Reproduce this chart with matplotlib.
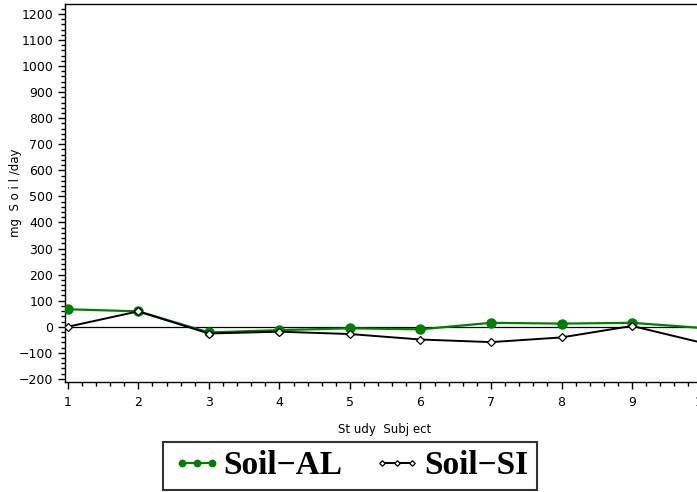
import matplotlib
matplotlib.use("Agg")
import matplotlib.pyplot as plt
from matplotlib.ticker import MultipleLocator

subjects = [1, 2, 3, 4, 5, 6, 7, 8, 9, 10]
soil_al = [67, 59, -22, -13, -6, -10, 15, 12, 15, -5]
soil_si = [0, 59, -26, -19, -28, -49, -59, -41, 3, -62]
y_ticks = list(range(-200, 1201, 100))

fig = plt.figure(figsize=(6.97, 4.92), dpi=100)
ax = fig.add_axes([65 / 697, 1 - 382 / 492, (697 - 65) / 697 + 0.01, (382 - 4) / 492])

ax.axhline(0, color="black", lw=0.9, zorder=1)
l1, = ax.plot(subjects, soil_al, color="#008000", lw=1.6, marker="o", ms=6.5,
              mfc="#008000", mec="#008000", label="Soil\u2212AL", zorder=3)
l2, = ax.plot(subjects, soil_si, color="black", lw=1.4, marker="D", ms=4,
              mfc="white", mec="black", mew=0.9, label="Soil\u2212SI", zorder=4)

ax.set_xlim(0.96, 10.02)
ax.set_ylim(-212, 1238)
ax.set_xticks(subjects)
ax.xaxis.set_minor_locator(MultipleLocator(0.2))
ax.set_yticks(y_ticks)
ax.yaxis.set_minor_locator(MultipleLocator(20))
ax.tick_params(axis="both", which="major", length=5, width=1, labelsize=9, direction="out")
ax.tick_params(axis="both", which="minor", length=3, width=1, direction="out")
ax.tick_params(axis="x", pad=5)
for s in ax.spines.values():
    s.set_linewidth(1)
ax.spines["right"].set_visible(False)

ax.set_ylabel("mg  S o i l /day", fontsize=8.5, labelpad=-2)
ax.set_xlabel("St udy  Subj ect", fontsize=8.5, labelpad=10)

leg = fig.legend(handles=[l1, l2], loc="center", bbox_to_anchor=(350 / 697, 1 - 466 / 492),
                 ncol=2, frameon=True, fancybox=False, edgecolor="black",
                 prop={"family": "Liberation Serif", "weight": "bold", "size": 24},
                 numpoints=3, handlelength=1.5, handletextpad=0.05, columnspacing=0.9,
                 borderpad=0.25, markerscale=0.7)
leg.get_frame().set_linewidth(1.5)

fig.savefig("out.png", dpi=100)
